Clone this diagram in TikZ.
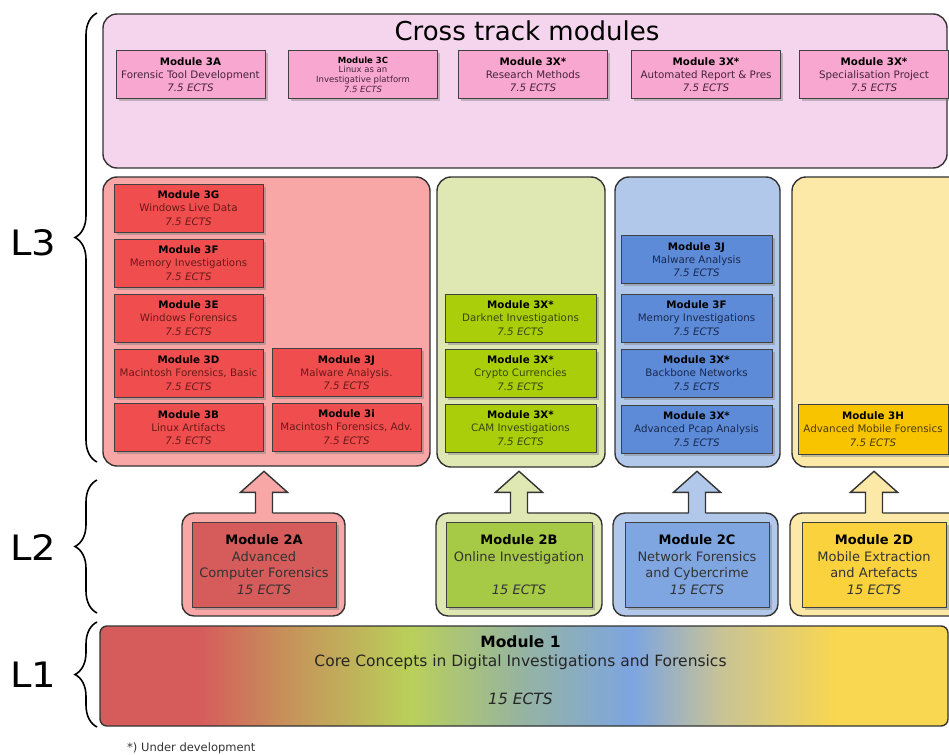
\documentclass[tikz,border=0pt]{standalone}
\usepackage{fontspec}
\setmainfont{DejaVu Sans}
\usetikzlibrary{shadows,decorations.pathreplacing,calc}
\definecolor{pPink}{RGB}{245,213,237}
\definecolor{mPink}{RGB}{248,168,208}
\definecolor{pRed}{RGB}{248,166,166}
\definecolor{mRed}{RGB}{240,78,78}
\definecolor{pGreen}{RGB}{223,232,178}
\definecolor{mGreen}{RGB}{170,207,10}
\definecolor{pBlue}{RGB}{178,200,234}
\definecolor{mBlue}{RGB}{93,139,216}
\definecolor{pYellow}{RGB}{252,233,168}
\definecolor{mYellow}{RGB}{248,196,0}
\definecolor{iRed}{RGB}{214,92,92}
\definecolor{iGreen}{RGB}{166,202,70}
\definecolor{iBlue}{RGB}{127,166,224}
\definecolor{iYellow}{RGB}{249,210,62}
\definecolor{tRed}{RGB}{105,25,25}
\definecolor{tPink}{RGB}{70,35,60}
\definecolor{tGreen}{RGB}{55,70,10}
\definecolor{tBlue}{RGB}{25,40,80}
\definecolor{tYellow}{RGB}{75,60,0}
\definecolor{cR}{RGB}{214,92,92}
\definecolor{cO}{RGB}{200,140,90}
\definecolor{cYG}{RGB}{185,208,90}
\definecolor{cGG}{RGB}{150,180,160}
\definecolor{cB}{RGB}{125,165,225}
\definecolor{cBe}{RGB}{200,195,150}
\definecolor{cY}{RGB}{250,215,80}
\pgfdeclarehorizontalshading{rainbow}{100bp}{color(0bp)=(cR); color(25bp)=(cR); color(30.9bp)=(cR); color(35.4bp)=(cO); color(43.3bp)=(cYG); color(49.8bp)=(cGG); color(56.4bp)=(cB); color(61.6bp)=(cBe); color(68.5bp)=(cY); color(75bp)=(cY); color(100bp)=(cY)}
\newcommand\modt[1]{\textbf{\textcolor{black}{#1}}}
\begin{document}
\begin{tikzpicture}[x=1pt,y=-1pt,
  panel/.style={draw=black!80, line width=1.4pt, rounded corners=14pt, inner sep=0pt},
  mod/.style={draw=black!75, line width=0.9pt, inner sep=0pt, align=center,
    drop shadow={shadow xshift=2.5pt, shadow yshift=-2.5pt, opacity=0.45}},
  m3/.style={mod, font=\fontsize{10.3}{13.3}\selectfont, minimum width=149pt, minimum height=48pt},
  m2/.style={mod, font=\fontsize{13}{16.5}\selectfont, minimum height=85pt},
  c2/.style={panel, rounded corners=12pt, minimum height=103pt},
  lvl/.style={font=\fontsize{35}{40}\selectfont, inner sep=0pt},
  brc/.style={decorate, decoration={brace, amplitude=22pt}, line width=1.6pt}
]
\useasboundingbox (0,0) rectangle (949,754);
\clip (0,0) rectangle (949,754);
\fill[white] (0,0) rectangle (949,754);

% level labels and braces
\node[lvl] (lab3) at (33,243) {\scalebox{1.1}[1]{L3}};
\node[lvl] (lab2) at (33,548) {\scalebox{1.1}[1]{L2}};
\node[lvl] (lab1) at (33,675) {\scalebox{1.1}[1]{L1}};
\draw[brc] (97,462) -- (97,13);
\draw[brc] (97,613) -- (97,480);
\draw[brc] (97,727) -- (97,622);

% cross track panel
\node[panel, fill=pPink, minimum width=844pt, minimum height=154pt] (cross) at (525,91) {};
\node[font=\fontsize{26}{30}\selectfont] (crosst) at (527,31) {Cross track modules};
\begin{scope}[every node/.style={m3, fill=mPink, text=tPink}]
\node (x3a) at (190.5,74.5) {\modt{Module 3A}\\Forensic Tool Development\\\textit{7.5 ECTS}};
\node[font=\fontsize{8.5}{9.6}\selectfont] (x3c) at (363,74.5) {\modt{Module 3C}\\Linux as an\\Investigative platform\\\textit{7.5 ECTS}};
\node (x3r) at (533,74.5) {\modt{Module 3X*}\\Research Methods\\\textit{7.5 ECTS}};
\node (x3p) at (706,74.5) {\modt{Module 3X*}\\Automated Report \& Pres\\\textit{7.5 ECTS}};
\node (x3s) at (874,74.5) {\modt{Module 3X*}\\Specialisation Project\\\textit{7.5 ECTS}};
\end{scope}

% track panels
\node[panel, fill=pRed, minimum width=327pt, minimum height=289pt] (pred) at (266.5,321.5) {};
\node[panel, fill=pGreen, minimum width=168pt, minimum height=290pt] (pgreen) at (521,322) {};
\node[panel, fill=pBlue, minimum width=165pt, minimum height=290pt] (pblue) at (697.5,322) {};
\node[panel, fill=pYellow, minimum width=178pt, minimum height=290pt] (pyellow) at (881,322) {};

\begin{scope}[every node/.style={m3, fill=mRed, text=tRed}]
\node (r3g) at (188.5,208) {\modt{Module 3G}\\Windows Live Data\\\textit{7.5 ECTS}};
\node (r3f) at (188.5,263) {\modt{Module 3F}\\Memory Investigations\\\textit{7.5 ECTS}};
\node (r3e) at (188.5,318) {\modt{Module 3E}\\Windows Forensics\\\textit{7.5 ECTS}};
\node (r3d) at (188.5,373) {\modt{Module 3D}\\Macintosh Forensics, Basic\\\textit{7.5 ECTS}};
\node (r3b) at (188.5,427.5) {\modt{Module 3B}\\Linux Artifacts\\\textit{7.5 ECTS}};
\node (r3j) at (346.5,372.5) {\modt{Module 3J}\\Malware Analysis.\\\textit{7.5 ECTS}};
\node (r3i) at (346.5,427) {\modt{Module 3i}\\Macintosh Forensics, Adv.\\\textit{7.5 ECTS}};
\end{scope}
\begin{scope}[every node/.style={m3, fill=mGreen, text=tGreen, minimum width=151pt}]
\node (g1) at (520.5,318) {\modt{Module 3X*}\\Darknet Investigations\\\textit{7.5 ECTS}};
\node (g2) at (520.5,373) {\modt{Module 3X*}\\Crypto Currencies\\\textit{7.5 ECTS}};
\node (g3) at (520.5,428) {\modt{Module 3X*}\\CAM Investigations\\\textit{7.5 ECTS}};
\end{scope}
\begin{scope}[every node/.style={m3, fill=mBlue, text=tBlue, minimum width=151pt}]
\node (b3j) at (696.5,259.5) {\modt{Module 3J}\\Malware Analysis\\\textit{7.5 ECTS}};
\node (b3f) at (696.5,318) {\modt{Module 3F}\\Memory Investigations\\\textit{7.5 ECTS}};
\node (b3x) at (696.5,373) {\modt{Module 3X*}\\Backbone Networks\\\textit{7.5 ECTS}};
\node (b3p) at (696.5,429) {\modt{Module 3X*}\\Advanced Pcap Analysis\\\textit{7.5 ECTS}};
\end{scope}
\node[m3, fill=mYellow, text=tYellow, minimum width=150pt, minimum height=50pt] (y3h) at (873,429) {\modt{Module 3H}\\Advanced Mobile Forensics\\\textit{7.5 ECTS}};

% L2 containers
\node[c2, fill=pRed, minimum width=163pt] (c2a) at (263.5,564.5) {};
\node[c2, fill=pGreen, minimum width=166pt] (c2b) at (519,564.5) {};
\node[c2, fill=pBlue, minimum width=165pt] (c2c) at (695.5,564.5) {};
\node[c2, fill=pYellow, minimum width=180pt] (c2d) at (880,564.5) {};

\node[m2, fill=iRed, text=black!80, minimum width=144pt] (m2a) at (264,564.5) {\modt{Module 2A}\\Advanced\\Computer Forensics\\\textit{15 ECTS}};
\node[m2, fill=iGreen, text=black!80, minimum width=146pt] (m2b) at (519,564.5) {\modt{Module 2B}\\Online Investigation\\~\\\textit{15 ECTS}};
\node[m2, fill=iBlue, text=black!80, minimum width=144pt] (m2c) at (697,564.5) {\modt{Module 2C}\\Network Forensics\\and Cybercrime\\\textit{15 ECTS}};
\node[m2, fill=iYellow, text=black!80, minimum width=144pt] (m2d) at (874,564.5) {\modt{Module 2D}\\Mobile Extraction\\and Artefacts\\\textit{15 ECTS}};

% block arrows
\foreach \m/\c/\col in {m2a/c2a/pRed, m2b/c2b/pGreen, m2c/c2c/pBlue, m2d/c2d/pYellow}{
  \coordinate (base) at (\m.north |- \c.north);
  \fill[\col] ($(base)+(-8.5,1.6)$) -- ($(base)+(-8.5,-20)$) -- ($(base)+(-23.5,-20)$) -- ($(base)+(0,-41)$)
     -- ($(base)+(23.5,-20)$) -- ($(base)+(8.5,-20)$) -- ($(base)+(8.5,1.6)$) -- cycle;
  \draw[black!80, line width=1.4pt, line join=miter] ($(base)+(-8.5,0.7)$) -- ($(base)+(-8.5,-20)$) -- ($(base)+(-23.5,-20)$) -- ($(base)+(0,-41)$)
     -- ($(base)+(23.5,-20)$) -- ($(base)+(8.5,-20)$) -- ($(base)+(8.5,0.7)$);
}

% L1 bar
\node[draw=black!80, line width=1.4pt, rounded corners=7pt, shade, shading=rainbow, minimum width=848pt, minimum height=100pt, inner sep=0pt] (l1bar) at (524,676) {};
\node[align=center, font=\fontsize{15.5}{19}\selectfont, text=black!85] (l1text) at (520.5,670) {\modt{Module 1}\\Core Concepts in Digital Investigations and Forensics\\~\\\textit{15 ECTS}};

% footnote
\node[anchor=base west, font=\fontsize{11.5}{13}\selectfont, text=black!80, inner sep=0pt] (foot) at (127,751) {*) Under development};
\end{tikzpicture}
\end{document}
